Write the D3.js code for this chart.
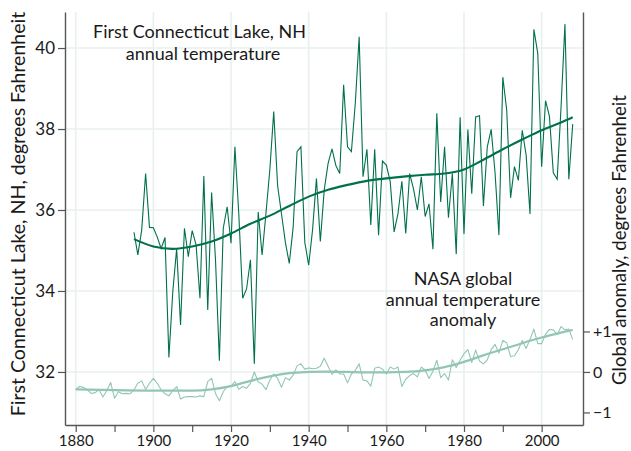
<!DOCTYPE html>
<html>
<head>
<meta charset="utf-8">
<script src="https://cdn.jsdelivr.net/npm/d3@7"></script>
<style>
  body { margin: 0; background: #fff; }
  svg { display: block; }
  text { font-family: Lato, "Open Sans", sans-serif; fill: #1a1a1a; }
</style>
</head>
<body>
<svg id="chart" width="631" height="451"></svg>
<script>
/////////    Data    /////////

// First Connecticut Lake, NH annual mean temperature (deg F), 1895-2008
let ctStart = 1895;
let ctTemp = [
  35.45, 34.89, 35.51, 36.90, 35.57, 35.56, 35.33, 35.05, 35.32, 32.36,
  33.98, 35.05, 33.16, 35.55, 34.85, 35.49, 35.14, 33.82, 36.84, 33.53,
  36.43, 34.77, 32.28, 35.55, 36.08, 35.18, 37.56, 35.90, 33.82, 34.05,
  34.77, 32.20, 35.95, 34.89, 35.92, 37.00, 38.43, 36.60, 35.90, 35.20,
  34.68, 35.57, 37.44, 37.56, 35.20, 34.64, 35.51, 36.78, 35.22, 36.49,
  37.15, 37.51, 37.10, 36.90, 39.09, 37.56, 37.44, 38.63, 40.28, 36.82,
  37.50, 35.63, 37.50, 35.38, 37.21, 37.11, 36.70, 35.46, 35.91, 36.71,
  35.42, 36.90, 36.52, 36.00, 36.82, 35.84, 36.15, 35.03, 38.39, 36.20,
  37.56, 35.81, 36.90, 34.91, 38.29, 35.41, 37.99, 36.40, 38.30, 38.33,
  36.10, 37.56, 37.99, 36.92, 35.38, 39.28, 38.47, 36.30, 37.07, 36.73,
  37.97, 37.36, 35.90, 40.46, 39.87, 37.07, 38.70, 38.32, 36.92, 36.76,
  38.55, 40.59, 36.76, 38.12
];

// NASA global annual temperature anomaly (deg F), 1880-2008
let nasaStart = 1880;
let nasaAnom = [
  -0.43, -0.36, -0.38, -0.44, -0.53, -0.51, -0.44, -0.62, -0.46, -0.26,
  -0.65, -0.49, -0.54, -0.53, -0.54, -0.44, -0.28, -0.22, -0.43, -0.28,
  -0.16, -0.28, -0.44, -0.54, -0.59, -0.46, -0.36, -0.67, -0.62, -0.61,
  -0.61, -0.62, -0.59, -0.61, -0.24, -0.16, -0.53, -0.71, -0.49, -0.36,
  -0.35, -0.24, -0.43, -0.36, -0.40, -0.28, 0.00, -0.24, -0.30, -0.44,
  -0.20, -0.05, -0.16, -0.38, -0.14, -0.20, -0.08, 0.15, 0.20, 0.07,
  0.10, 0.08, 0.09, 0.14, 0.34, 0.14, -0.06, 0.05, -0.05, -0.05,
  -0.27, -0.05, 0.04, 0.20, -0.20, -0.22, -0.35, 0.09, 0.12, 0.07,
  -0.05, 0.12, 0.07, 0.12, -0.36, -0.18, -0.09, -0.04, -0.12, 0.12,
  0.05, -0.16, 0.02, 0.29, -0.14, -0.04, -0.20, 0.30, 0.11, 0.29,
  0.45, 0.55, 0.23, 0.54, 0.27, 0.20, 0.30, 0.55, 0.68, 0.47,
  0.78, 0.72, 0.38, 0.40, 0.55, 0.78, 0.58, 0.80, 1.06, 0.70,
  0.70, 0.93, 1.05, 1.04, 0.92, 1.12, 1.04, 1.06, 0.80
];

// Smoothed (lowess) curves
let ctSmoothYears = [1895, 1900, 1905, 1910, 1915, 1920, 1925, 1930, 1935, 1940, 1945, 1950,
  1955, 1960, 1965, 1970, 1975, 1980, 1985, 1990, 1995, 2000, 2005, 2008];
let ctSmooth = [35.28, 35.10, 35.04, 35.10, 35.22, 35.42, 35.66, 35.86, 36.10, 36.33, 36.50, 36.62,
  36.72, 36.78, 36.83, 36.87, 36.90, 37.00, 37.24, 37.50, 37.74, 37.97, 38.16, 38.29];

let nasaSmoothYears = [1880, 1890, 1900, 1910, 1915, 1920, 1925, 1930, 1935, 1940, 1945, 1950,
  1955, 1960, 1965, 1970, 1975, 1980, 1985, 1990, 1995, 2000, 2005, 2008];
let nasaSmooth = [-0.43, -0.45, -0.46, -0.46, -0.43, -0.35, -0.22, -0.11, -0.03, 0.00, 0.01, 0.00,
  -0.01, -0.01, 0.00, 0.04, 0.12, 0.25, 0.41, 0.56, 0.71, 0.85, 0.97, 1.04];

// Tick values
let xTicks = [1880, 1900, 1920, 1940, 1960, 1980, 2000];
let xMinorTicks = [1890, 1910, 1930, 1950, 1970, 1990];
let leftTicks = [32, 34, 36, 38, 40];
let rightTicks = [-1, 0, 1];

///////////    Layout    //////////////

let plotLeft = 65, plotRight = 583, plotTop = 12, plotBottom = 425;

let svg = d3.select("#chart");

let x = d3.scaleLinear().domain([1877.24, 2010.65]).range([plotLeft, plotRight]);
let yL = d3.scaleLinear().domain([30.69, 40.89]).range([plotBottom, plotTop]);
let yR = d3.scaleLinear().domain([-1.31, 8.89]).range([plotBottom, plotTop]);

// Grid lines
let gridColor = "#e7f0ed";
svg.append("g")
  .selectAll("line")
  .data(leftTicks)
  .enter()
  .append("line")
  .attr("x1", plotLeft)
  .attr("x2", plotRight)
  .attr("y1", (d) => yL(d))
  .attr("y2", (d) => yL(d))
  .attr("stroke", gridColor)
  .attr("stroke-width", 1.6);

svg.append("g")
  .selectAll("line")
  .data(xTicks)
  .enter()
  .append("line")
  .attr("x1", (d) => x(d))
  .attr("x2", (d) => x(d))
  .attr("y1", plotTop)
  .attr("y2", plotBottom)
  .attr("stroke", gridColor)
  .attr("stroke-width", 1.6);

///////////    Lines    //////////////

let ctData = ctTemp.map((v, i) => ({ year: ctStart + i, v: v }));
let nasaData = nasaAnom.map((v, i) => ({ year: nasaStart + i, v: v }));
let ctSm = ctSmooth.map((v, i) => ({ year: ctSmoothYears[i], v: v }));
let nasaSm = nasaSmooth.map((v, i) => ({ year: nasaSmoothYears[i], v: v }));

let lineL = d3.line().x((d) => x(d.year)).y((d) => yL(d.v));
let lineR = d3.line().x((d) => x(d.year)).y((d) => yR(d.v));
let smoothL = d3.line().curve(d3.curveMonotoneX).x((d) => x(d.year)).y((d) => yL(d.v));
let smoothR = d3.line().curve(d3.curveMonotoneX).x((d) => x(d.year)).y((d) => yR(d.v));

let darkGreen = "#00704d";
let lightGreen = "#93c6b2";

svg.append("path")
  .attr("d", lineR(nasaData))
  .attr("fill", "none")
  .attr("stroke", lightGreen)
  .attr("stroke-width", 1.1)
  .attr("stroke-linejoin", "round");

svg.append("path")
  .attr("d", smoothR(nasaSm))
  .attr("fill", "none")
  .attr("stroke", lightGreen)
  .attr("stroke-width", 2.2);

svg.append("path")
  .attr("d", lineL(ctData))
  .attr("fill", "none")
  .attr("stroke", darkGreen)
  .attr("stroke-width", 1.1)
  .attr("stroke-linejoin", "miter");

svg.append("path")
  .attr("d", smoothL(ctSm))
  .attr("fill", "none")
  .attr("stroke", darkGreen)
  .attr("stroke-width", 2.1);

///////////    Axes    //////////////

let axisColor = "#555";

function styleAxis(g, fontSize) {
  g.selectAll("path").attr("stroke", axisColor).attr("stroke-width", 1.4);
  g.selectAll("line").attr("stroke", axisColor).attr("stroke-width", 1.2);
  g.selectAll("text")
    .attr("fill", "#1a1a1a")
    .attr("font-size", fontSize)
    .attr("font-family", "Lato, 'Open Sans', sans-serif");
}

svg.append("g")
  .attr("transform", "translate(" + plotLeft + ",0)")
  .call(d3.axisLeft(yL).tickValues(leftTicks).tickSize(7).tickSizeOuter(0).tickPadding(3))
  .call((g) => styleAxis(g, 17));

svg.append("g")
  .attr("transform", "translate(0," + plotBottom + ")")
  .call(d3.axisBottom(x).tickValues(xTicks.concat(xMinorTicks)).tickSize(7).tickSizeOuter(0).tickPadding(3)
    .tickFormat((d) => (xTicks.indexOf(d) >= 0 ? d : "")))
  .call((g) => styleAxis(g, 15));

svg.append("g")
  .attr("transform", "translate(" + plotRight + ",0)")
  .call(d3.axisRight(yR).tickValues(rightTicks).tickSize(7).tickSizeOuter(0).tickPadding(3)
    .tickFormat((d) => (d > 0 ? "+" + d : d < 0 ? "\u2212" + Math.abs(d) : "0")))
  .call((g) => styleAxis(g, 16));

///////////    Titles and labels    //////////////

// shrink or grow the font so that the text spans the given width
function fitWidth(node, w) {
  let fs = parseFloat(node.getAttribute("font-size"));
  let len = node.getComputedTextLength();
  let nfs = (fs * w) / len;
  node.setAttribute("font-size", nfs);
  return nfs;
}

let leftTitle = svg.append("text")
  .attr("transform", "translate(25,214) rotate(-90)")
  .attr("text-anchor", "middle")
  .attr("font-size", 19)
  .text("First Connecticut Lake, NH, degrees Fahrenheit");
fitWidth(leftTitle.node(), 405);

let rightTitle = svg.append("text")
  .attr("transform", "translate(626,240) rotate(-90)")
  .attr("text-anchor", "middle")
  .attr("font-size", 18)
  .text("Global anomaly, degrees Fahrenheit");
fitWidth(rightTitle.node(), 290);

let ctLabel = ["First Connecticut Lake, NH", "annual temperature"];
let nasaLabel = ["NASA global", "annual temperature", "anomaly"];

let t1 = svg.append("text")
  .attr("x", 199.5)
  .attr("y", 38)
  .attr("text-anchor", "middle")
  .attr("font-size", 17)
  .text(ctLabel[0]);
let labelSize = fitWidth(t1.node(), 213);

svg.append("text")
  .attr("x", 203)
  .attr("y", 60)
  .attr("text-anchor", "middle")
  .attr("font-size", labelSize)
  .text(ctLabel[1]);

svg.append("g")
  .selectAll("text")
  .data(nasaLabel)
  .enter()
  .append("text")
  .attr("x", 463)
  .attr("y", (d, i) => 285 + i * 20.5)
  .attr("text-anchor", "middle")
  .attr("font-size", labelSize)
  .text((d) => d);
</script>
</body>
</html>
